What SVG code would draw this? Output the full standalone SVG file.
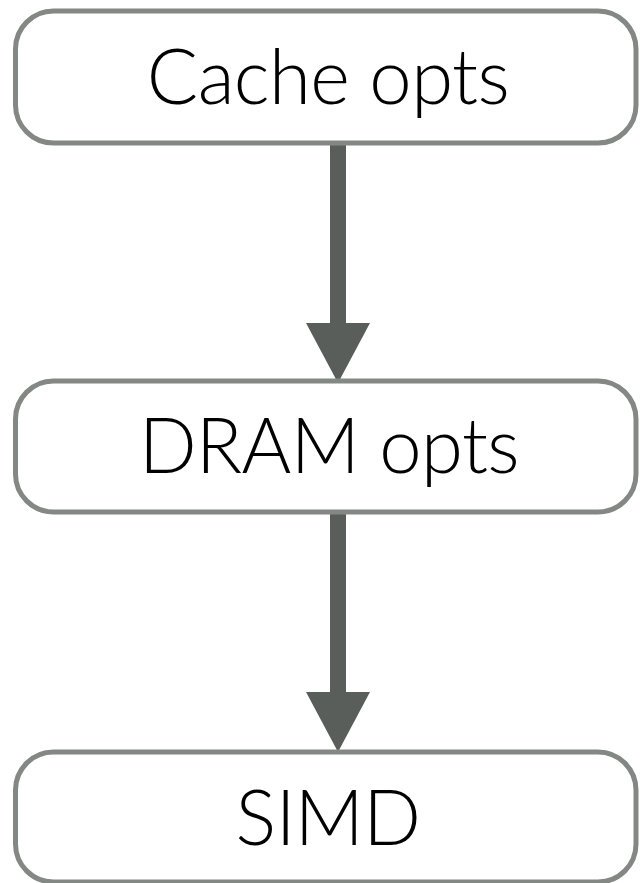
<svg xmlns="http://www.w3.org/2000/svg" width="640" height="883" viewBox="0 0 640 883">
<style>
.box{fill:#ffffff;stroke:#838885;stroke-width:5}
.lbl{font-family:Lato,"Open Sans","Liberation Sans",sans-serif;font-weight:300;font-size:76px;letter-spacing:-0.6px;fill:#000;text-anchor:middle}
.shaft{fill:#5a5e5b}
</style>
<rect width="640" height="883" fill="#ffffff"/>
<g id="connectors">
<rect class="shaft" x="330" y="143" width="16" height="181"/>
<polygon class="shaft" points="306,323 370,323 338,383"/>
<rect class="shaft" x="330" y="512" width="16" height="181"/>
<polygon class="shaft" points="306,692 370,692 338,752"/>
</g>
<g id="node-cache">
<rect class="box" x="15.5" y="11" width="620.5" height="132" rx="38" ry="38"/>
<text class="lbl" x="328" y="104">Cache opts</text>
</g>
<g id="node-dram">
<rect class="box" x="15.5" y="381" width="620.5" height="131" rx="38" ry="38"/>
<text class="lbl" x="329" y="473">DRAM opts</text>
</g>
<g id="node-simd">
<rect class="box" x="15.5" y="752" width="620.5" height="130" rx="38" ry="38"/>
<text class="lbl" x="328" y="845">SIMD</text>
</g>
</svg>
